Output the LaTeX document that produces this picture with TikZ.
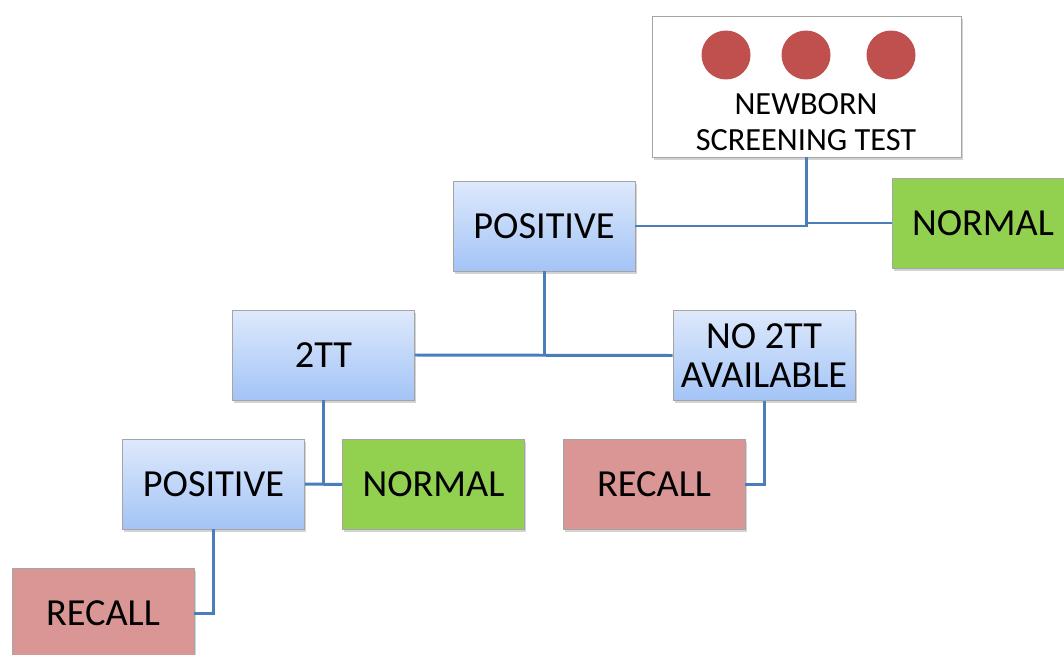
\documentclass[tikz,border=0pt]{standalone}
\usepackage{fontspec}
\setmainfont{Carlito}
\usetikzlibrary{shapes, positioning, shadows}
\definecolor{Link}{RGB}{74, 126, 187}
\definecolor{PosTop}{RGB}{222, 233, 252}
\definecolor{PosBottom}{RGB}{163, 196, 246}
\definecolor{Normal}{RGB}{146, 208, 80}
\definecolor{Recall}{RGB}{217, 150, 148}
\definecolor{Spot}{RGB}{192, 80, 77}
\definecolor{Frame}{RGB}{165, 165, 165}

\begin{document}
\begin{tikzpicture}[x=0.02cm, y=-0.02cm,
    box/.style={draw=Frame, line width=0.5pt, minimum width=3.64cm, minimum height=1.8cm, align=center,
        font=\fontsize{21.8}{22.6}\selectfont,
        drop shadow={shadow xshift=1pt, shadow yshift=-1.5pt, opacity=0.35}},
    result/.style={box, top color=PosTop, bottom color=PosBottom},
    normal/.style={box, fill=Normal},
    recall/.style={box, fill=Recall},
    link/.style={draw=Link, line width=1.7pt}]
            \useasboundingbox (0,0) rectangle (1064,655);
            \clip (0,0) rectangle (1064,655);

            % Screening test
            \node[box, fill=white, minimum width=6.18cm, minimum height=2.82cm] (test) at (806.5,86.5) {};
            \foreach \x in {726, 806, 891}
                \fill[Spot] (\x,55) circle[radius=0.49cm];
            \node[font=\fontsize{18.4}{20.6}\selectfont, align=center] (testtext) at (806,122.5) {NEWBORN\\SCREENING TEST};

            % First level
            \node[result] (pos1) at (544,226) {POSITIVE};
            \node[normal] (norm1) at (983,223) {NORMAL};

            % Second tier
            \node[result] (tt) at (323.5,355) {2TT};
            \node[result] (notwo) at (764,355.5) {NO 2TT\\AVAILABLE};

            % Results
            \node[result] (pos2) at (213.5,484) {POSITIVE};
            \node[normal] (norm2) at (433.5,484.5) {NORMAL};
            \node[recall] (recall1) at (654,484.5) {RECALL};
            \node[recall] (recall2) at (103,613) {RECALL};

            % Connectors
            \draw[link] (test.south) |- (pos1.east);
            \draw[link] (test.south |- norm1.west) -- (norm1.west);
            \draw[link] (pos1.south) -- (pos1.south |- tt.east);
            \draw[link] (tt.east) -- (notwo.west);
            \draw[link] (tt.south) -- (tt.south |- pos2.east);
            \draw[link] (pos2.east) -- (norm2.west);
            \draw[link] (notwo.south) |- (recall1.east);
            \draw[link] (pos2.south) |- (recall2.east);
        \end{tikzpicture}
\end{document}
